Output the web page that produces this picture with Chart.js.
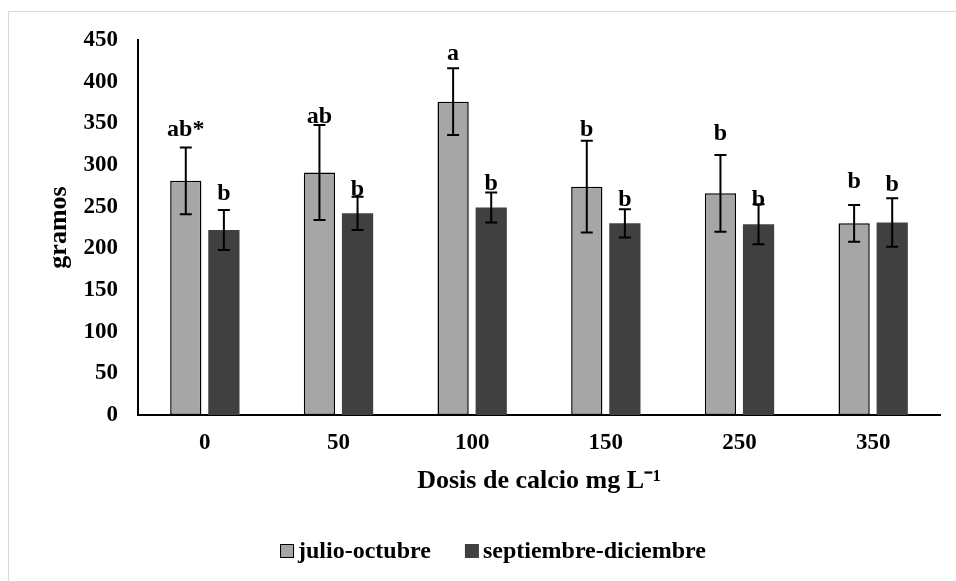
<!DOCTYPE html>
<html>
<head>
<meta charset="utf-8">
<script src="https://cdn.jsdelivr.net/npm/chart.js@4/dist/chart.umd.min.js"></script>
<style>
  html, body { margin: 0; padding: 0; background: #fff; }
  #wrap { position: relative; width: 956px; height: 581px; overflow: hidden; }
  #frame { position: absolute; left: 8px; top: 11px; width: 960px; height: 600px;
    border-left: 1px solid #d9d9d9; border-top: 1px solid #d9d9d9; }
  #chart { position: absolute; left: 0; top: 0; }
</style>
</head>
<body>
<div id="wrap">
  <div id="frame"></div>
  <canvas id="chart" width="956" height="581"></canvas>
</div>
<script>
"use strict";

// Datos (gramos por dosis de calcio).
const dosis = ["0", "50", "100", "150", "250", "350"];
const julioOct = [281, 291, 376, 274, 266, 230];
const septDic = [222, 242, 249, 230, 229, 231];
const errJulio = [40, 57, 40, 55, 46, 22];
const errSept = [24, 20, 18, 17, 24, 29];
// Letras de comparación de medias y su altura (en gramos) sobre cada barra.
const letrasJulio = ["ab*", "ab", "a", "b", "b", "b"];
const letrasSept = ["b", "b", "b", "b", "b", "b"];
const alturaLetraJulio = [342, 358, 434, 342, 338, 280];
const alturaLetraSept = [266, 270, 277, 258, 258, 276];
const yTicks = [0, 50, 100, 150, 200, 250, 300, 350, 400, 450];

const SERIF = '"Liberation Serif", "Times New Roman", serif';
const GRIS = "#a6a6a6";
const OSCURO = "#404040";

const errores = [errJulio, errSept];
const letras = [letrasJulio, letrasSept];
const alturas = [alturaLetraJulio, alturaLetraSept];

// Barras de error y letras encima de cada barra.
const anotaciones = {
  id: "anotaciones",
  afterDatasetsDraw(chart) {
    const ctx = chart.ctx;
    const y = chart.scales.y;
    ctx.save();
    ctx.strokeStyle = "#000";
    ctx.lineWidth = 2;
    chart.data.datasets.forEach((ds, di) => {
      const meta = chart.getDatasetMeta(di);
      meta.data.forEach((bar, i) => {
        const v = ds.data[i], e = errores[di][i];
        const top = y.getPixelForValue(v + e), bot = y.getPixelForValue(v - e);
        ctx.beginPath();
        ctx.moveTo(bar.x, top); ctx.lineTo(bar.x, bot);
        ctx.moveTo(bar.x - 6, top); ctx.lineTo(bar.x + 6, top);
        ctx.moveTo(bar.x - 6, bot); ctx.lineTo(bar.x + 6, bot);
        ctx.stroke();
      });
    });
    ctx.fillStyle = "#000";
    ctx.font = "bold 24px " + SERIF;
    ctx.textAlign = "center";
    ctx.textBaseline = "middle";
    chart.data.datasets.forEach((ds, di) => {
      chart.getDatasetMeta(di).data.forEach((bar, i) => {
        ctx.fillText(letras[di][i], bar.x, y.getPixelForValue(alturas[di][i]));
      });
    });
    ctx.restore();
  },
};

// Leyenda inferior al estilo de Excel.
const leyenda = {
  id: "leyenda",
  afterDraw(chart) {
    const ctx = chart.ctx;
    ctx.save();
    ctx.font = "bold 24px " + SERIF;
    ctx.textBaseline = "middle";
    ctx.textAlign = "left";
    const items = chart.data.datasets.map((d) => ({ label: d.label, color: d.backgroundColor, border: d.borderWidth > 0 }));
    const box = 14, gapText = 4, gapItem = 34;
    let total = 0;
    items.forEach((it, i) => {
      it.w = ctx.measureText(it.label).width;
      total += box + gapText + it.w + (i < items.length - 1 ? gapItem : 0);
    });
    let x = chart.width / 2 + 15 - total / 2;
    const cy = 551;
    items.forEach((it) => {
      ctx.fillStyle = it.color;
      ctx.fillRect(x, cy - box / 2, box, box);
      if (it.border) {
        ctx.strokeStyle = "#000";
        ctx.lineWidth = 1;
        ctx.strokeRect(x + 0.5, cy - box / 2 + 0.5, box - 1, box - 1);
      }
      ctx.fillStyle = "#000";
      ctx.fillText(it.label, x + box + gapText, cy + 1);
      x += box + gapText + it.w + gapItem;
    });
    ctx.restore();
  },
};

new Chart(document.getElementById("chart"), {
  type: "bar",
  data: {
    labels: dosis,
    datasets: [
      { label: "julio-octubre", data: julioOct, backgroundColor: GRIS,
        borderColor: "#000", borderWidth: 1.5, borderSkipped: false },
      { label: "septiembre-diciembre", data: septDic, backgroundColor: OSCURO, borderWidth: 0 },
    ],
  },
  options: {
    responsive: false,
    animation: false,
    events: [],
    barPercentage: 0.82,
    categoryPercentage: 0.57,
    layout: { padding: { left: 40, right: 16, top: 40, bottom: 71 } },
    plugins: { legend: { display: false }, tooltip: { enabled: false } },
    scales: {
      x: {
        grid: { display: false, drawTicks: false },
        border: { display: true, color: "#000", width: 2 },
        ticks: { color: "#000", padding: 14, font: { family: SERIF, size: 23, weight: "bold" } },
        title: { display: true, text: "Dosis de calcio mg L\u207B\u00B9", color: "#000",
          padding: { top: 4, bottom: 13 }, font: { family: SERIF, size: 26, weight: "bold" } },
        afterFit: (s) => { s.height = 95; },
      },
      y: {
        min: 0, max: 450,
        afterBuildTicks: (s) => { s.ticks = yTicks.map((v) => ({ value: v })); },
        grid: { display: false, drawTicks: false },
        border: { display: true, color: "#000", width: 2 },
        ticks: { color: "#000", padding: 20, font: { family: SERIF, size: 23, weight: "bold" } },
        title: { display: true, text: "gramos", color: "#000",
          padding: { top: 4, bottom: 4 }, font: { family: SERIF, size: 26, weight: "bold" } },
        afterFit: (s) => { s.width = 98; },
      },
    },
  },
  plugins: [anotaciones, leyenda],
});
</script>
</body>
</html>
